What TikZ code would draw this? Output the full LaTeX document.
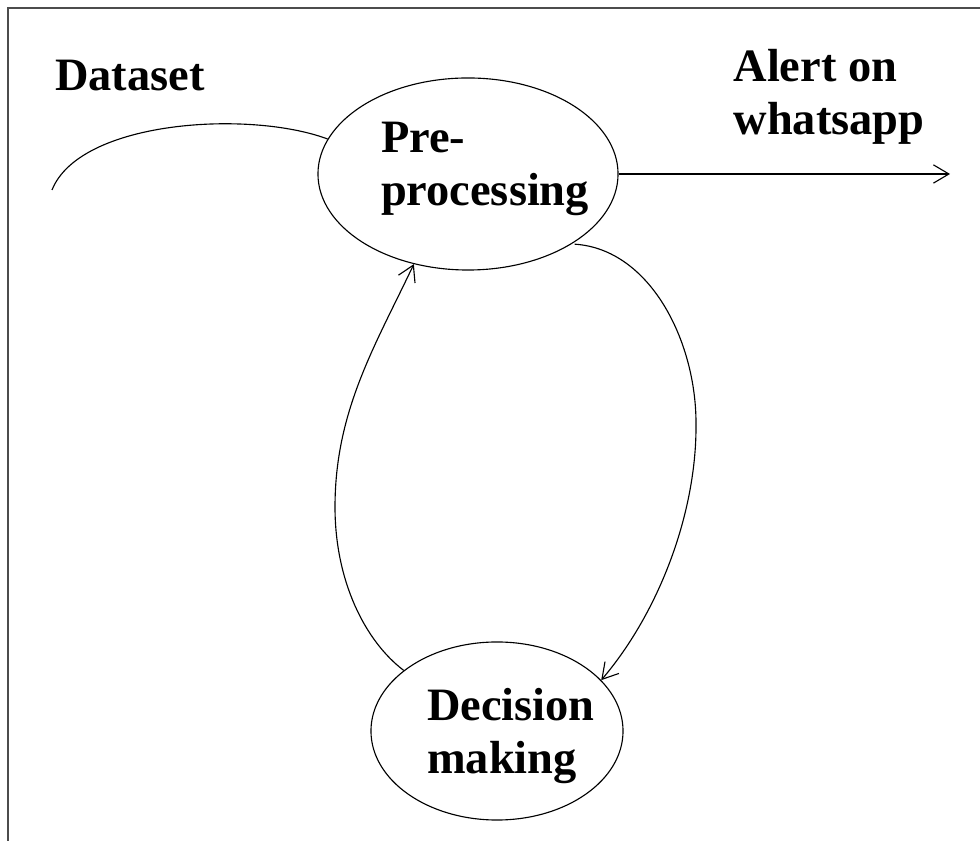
\documentclass[tikz,border=0pt]{standalone}
\usepackage{fontspec}
\setmainfont{Liberation Serif}
\usepackage{tikz}
\usetikzlibrary{arrows.meta,shapes}
\tikzstyle{bubble}=[ellipse,draw,line width=0.8pt,inner sep=0pt]
\tikzstyle{txt}=[font=\fontsize{33}{38}\selectfont\bfseries,align=left,inner sep=0pt]
\tikzstyle{flow}=[draw,line width=0.8pt,-{Straight Barb[length=11pt,width=13pt]}]

\begin{document}
\begin{tikzpicture}[x=0.025cm,y=0.025cm]
    \useasboundingbox (0,0) rectangle (980,841);
    % frame
    \draw[line width=1.2pt, black!70] (8,0) |- (980,833);
    % the two circles
    \node[bubble, minimum width=7.5cm, minimum height=4.8cm] (pre) at (468,667) {};
    \node[bubble, minimum width=6.3cm, minimum height=4.45cm] (dec) at (497,110) {};
    % texts
    \foreach \pos/\name/\text in {{(130,765)/dataset/Dataset}, {(485,672)/pretext/Pre-\\processing},
                                  {(829,744)/alert/Alert on\\whatsapp}, {(511,105)/dectext/Decision\\making}}
        \node[txt] (\name) at \pos {\text};
    \coordinate (dsin) at (52,651);
    \coordinate (alertout) at (950,667);
    % connectors
    \draw[line width=0.8pt] (dsin) .. controls (80,721) and (250,731) .. (pre.166);
    \path[flow] (pre.east) -- (alertout);
    \path[flow, shorten <=2pt] (pre.-34) .. controls (650,592) and (696,500) .. (696,418)
        .. controls (697,330) and (660,230) .. (dec.26);
    \path[flow] (dec.147) .. controls (365,200) and (335,260) .. (335,334)
        .. controls (335,430) and (375,495) .. (pre.239);
\end{tikzpicture}
\end{document}
